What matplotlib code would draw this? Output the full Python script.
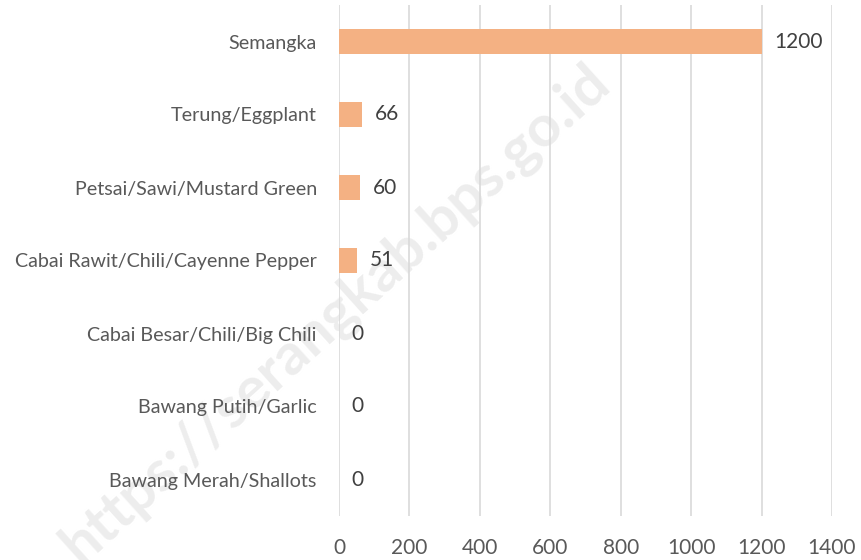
import matplotlib
matplotlib.use("Agg")
import matplotlib.pyplot as plt

categories = ["Bawang Merah/Shallots", "Bawang Putih/Garlic", "Cabai Besar/Chili/Big Chili",
              "Cabai Rawit/Chili/Cayenne Pepper", "Petsai/Sawi/Mustard Green",
              "Terung/Eggplant", "Semangka"]
values = [0, 0, 0, 51, 60, 66, 1200]
xticks = [0, 200, 400, 600, 800, 1000, 1200, 1400]

plt.rcParams['font.family'] = ['Lato', 'DejaVu Sans']
txt = '#595959'

fig = plt.figure(figsize=(8.61, 5.60), dpi=100)
ax = fig.add_axes([339 / 861, 1 - 516 / 560, (832 - 339) / 861, 511 / 560])
ax.set_zorder(1)
ax.set_facecolor('none')

fig.text(0.39, 0.44, "https://serangkab.bps.go.id", rotation=42, fontsize=42,
         fontweight='bold', color='#EDEDED', ha='center', va='center', zorder=-5)

ax.barh(range(len(categories)), values, height=0.34, color='#F4B183', zorder=2)
for i, v in enumerate(values):
    ax.text(v + 1400 * 0.026, i, str(v), va='center', ha='left', fontsize=15, color='#404040')

ax.set_xlim(0, 1400)
ax.set_ylim(-0.5, len(categories) - 0.5)
ax.set_xticks(xticks)
ax.set_xticklabels([str(t) for t in xticks], fontsize=15, color=txt)
ax.set_yticks(range(len(categories)))
ax.set_yticklabels(categories, fontsize=14.2, color=txt)
ax.tick_params(axis='both', length=0)
ax.tick_params(axis='x', pad=16)
ax.tick_params(axis='y', pad=16)
ax.grid(axis='x', color='#D9D9D9', linewidth=1.2, zorder=1)
ax.set_axisbelow(True)
for s in ax.spines.values():
    s.set_visible(False)

fig.savefig("out.png", dpi=100)
